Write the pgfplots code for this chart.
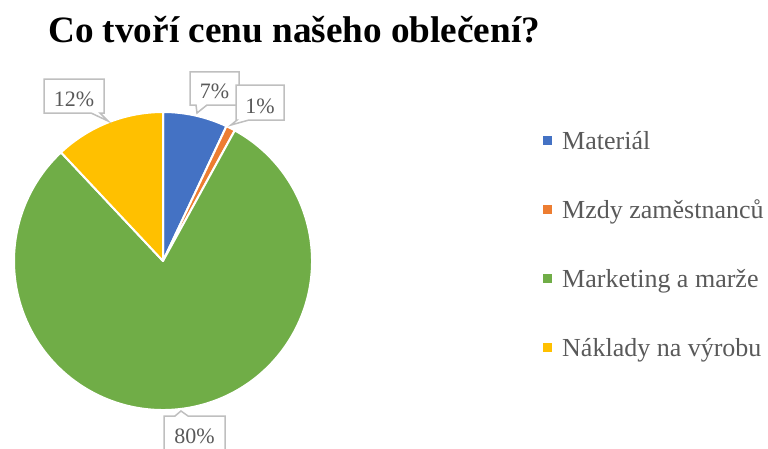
\documentclass[border=0pt]{standalone}
\usepackage{pgfplots}
\pgfplotsset{compat=1.18}
\usepackage{fontspec}
\setmainfont{Liberation Serif}
\definecolor{cBlue}{HTML}{4472C4}
\definecolor{cOrange}{HTML}{ED7D31}
\definecolor{cGreen}{HTML}{70AD47}
\definecolor{cYellow}{HTML}{FFC000}
\definecolor{cText}{HTML}{595959}
\definecolor{cBox}{HTML}{BFBFBF}
% shares in percent
\def\vA{7}\def\vB{1}\def\vC{80}\def\vD{12}
\pgfmathsetmacro{\aA}{90}
\pgfmathsetmacro{\aB}{90-3.6*\vA}
\pgfmathsetmacro{\aC}{\aB-3.6*\vB}
\pgfmathsetmacro{\aD}{\aC-3.6*\vC}
\pgfmathsetmacro{\aE}{\aD-3.6*\vD}
\def\cx{163}\def\cy{-261}\def\R{149}
\begin{document}
\begin{tikzpicture}[x=1pt,y=1pt]
\begin{axis}[hide axis, scale only axis, width=768pt, height=448pt,
  xmin=0, xmax=768, ymin=-448, ymax=0, clip=false,
  anchor=south west, at={(0,0)}]
\coordinate (BL) at (axis cs:0,-448);
\coordinate (TR) at (axis cs:768,0);
\filldraw[fill=cBlue, draw=white, line width=2pt, line join=round]
  (axis cs:\cx,\cy) -- (axis cs:{\cx+\R*cos(\aA)},{\cy+\R*sin(\aA)}) arc[start angle=\aA, end angle=\aB, radius=\R pt] -- cycle;
\filldraw[fill=cOrange, draw=white, line width=2pt, line join=round]
  (axis cs:\cx,\cy) -- (axis cs:{\cx+\R*cos(\aB)},{\cy+\R*sin(\aB)}) arc[start angle=\aB, end angle=\aC, radius=\R pt] -- cycle;
\filldraw[fill=cGreen, draw=white, line width=2pt, line join=round]
  (axis cs:\cx,\cy) -- (axis cs:{\cx+\R*cos(\aC)},{\cy+\R*sin(\aC)}) arc[start angle=\aC, end angle=\aD, radius=\R pt] -- cycle;
\filldraw[fill=cYellow, draw=white, line width=2pt, line join=round]
  (axis cs:\cx,\cy) -- (axis cs:{\cx+\R*cos(\aD)},{\cy+\R*sin(\aD)}) arc[start angle=\aD, end angle=\aE, radius=\R pt] -- cycle;
% title
\node[anchor=base west, inner sep=0pt, font=\fontsize{37.2}{40}\selectfont\bfseries]
  at (axis cs:48,-43) {Co tvoří cenu našeho oblečení?};
% data labels (callouts)
\draw[fill=white, draw=cBox, line width=1.5pt] (axis cs:44,-79) -- (axis cs:104,-79) -- (axis cs:104,-113) -- (axis cs:100,-113)
  -- (axis cs:108,-121) -- (axis cs:91,-113) -- (axis cs:44,-113) -- cycle;
\node[anchor=base, inner sep=0pt, text=cText, font=\fontsize{22}{24}\selectfont] at (axis cs:74,-106) {12\%};
\draw[fill=white, draw=cBox, line width=1.5pt] (axis cs:190,-72) -- (axis cs:239,-72) -- (axis cs:239,-105) -- (axis cs:207,-105)
  -- (axis cs:197,-113) -- (axis cs:196,-105) -- (axis cs:190,-105) -- cycle;
\node[anchor=base, inner sep=0pt, text=cText, font=\fontsize{22}{24}\selectfont] at (axis cs:214.5,-98) {7\%};
\draw[fill=white, draw=cBox, line width=1.5pt] (axis cs:236,-85) -- (axis cs:284,-85) -- (axis cs:284,-120) -- (axis cs:249,-120)
  -- (axis cs:231,-125) -- (axis cs:237,-120) -- (axis cs:236,-120) -- cycle;
\node[anchor=base, inner sep=0pt, text=cText, font=\fontsize{22}{24}\selectfont] at (axis cs:260,-113) {1\%};
\draw[fill=white, draw=cBox, line width=1.5pt] (axis cs:164,-416) -- (axis cs:175,-416) -- (axis cs:181,-411) -- (axis cs:188,-416)
  -- (axis cs:225,-416) -- (axis cs:225,-450) -- (axis cs:164,-450) -- cycle;
\node[anchor=base, inner sep=0pt, text=cText, font=\fontsize{22}{24}\selectfont] at (axis cs:194.5,-443) {80\%};
% legend
\fill[cBlue] (axis cs:543,-145) rectangle (axis cs:552,-136);
\node[anchor=base west, inner sep=0pt, text=cText, font=\fontsize{26}{28}\selectfont] at (axis cs:562,-149) {Materiál};
\fill[cOrange] (axis cs:543,-214) rectangle (axis cs:552,-205);
\node[anchor=base west, inner sep=0pt, text=cText, font=\fontsize{26}{28}\selectfont] at (axis cs:562,-218) {Mzdy zaměstnanců};
\fill[cGreen] (axis cs:543,-283) rectangle (axis cs:552,-274);
\node[anchor=base west, inner sep=0pt, text=cText, font=\fontsize{26}{28}\selectfont] at (axis cs:562,-287) {Marketing a marže};
\fill[cYellow] (axis cs:543,-352) rectangle (axis cs:552,-343);
\node[anchor=base west, inner sep=0pt, text=cText, font=\fontsize{26}{28}\selectfont] at (axis cs:562,-356) {Náklady na výrobu};
\end{axis}
\pgfresetboundingbox
\path[use as bounding box] (BL) rectangle (TR);
\end{tikzpicture}
\end{document}
